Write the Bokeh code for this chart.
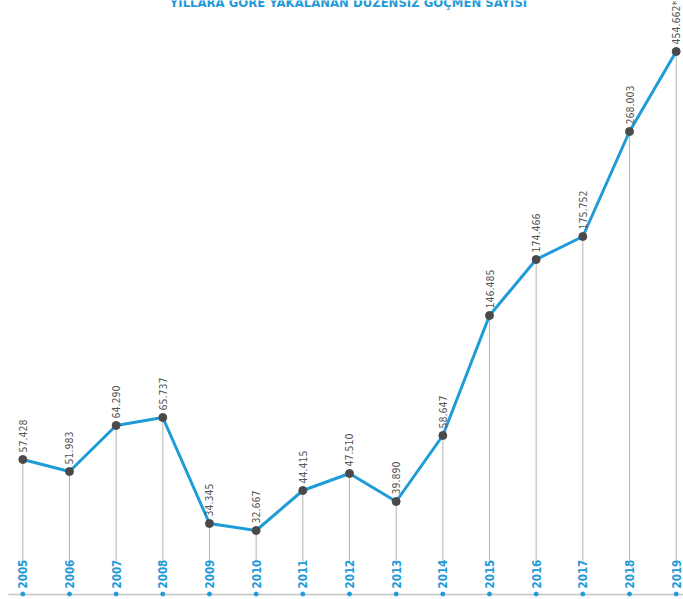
import numpy as np
from bokeh.plotting import figure
from bokeh.models import Range1d
from bokeh.core.properties import value
from bokeh.embed import file_html
from bokeh.resources import INLINE

# ---- data ----
title_text = "YILLARA GÖRE YAKALANAN DÜZENSİZ GÖÇMEN SAYISI"
years = [2005, 2006, 2007, 2008, 2009, 2010, 2011, 2012, 2013, 2014,
         2015, 2016, 2017, 2018, 2019]
year_labels = [str(y) for y in years]
migrants = [57428, 51983, 64290, 65737, 34345, 32667, 44415, 47510, 39890,
            58647, 146485, 174466, 175752, 268003, 454662]
value_labels = ["57.428", "51.983", "64.290", "65.737", "34.345", "32.667",
                "44.415", "47.510", "39.890", "58.647", "146.485", "174.466",
                "175.752", "268.003", "454.662*"]
# heights of the points as drawn in the (non-linear) infographic scale
drawn_height = [106, 94, 140, 148, 42, 35, 75, 92, 64, 130,
                250, 306, 329, 434, 514]

# ---- layout constants ----
W, H = 683, 599
first_px, step_px = 22.3, 46.67
base_px = 565
x0 = years[0] - first_px / step_px
x1 = x0 + W / step_px
y0 = -(H - base_px)
y1 = base_px

BLUE = "#1f9bd7"
GREY_TXT = "#555555"
FONT = "DejaVu Sans Condensed, Roboto"

p = figure(width=W, height=H, output_backend="svg", toolbar_location=None,
           x_range=Range1d(x0, x1), y_range=Range1d(y0, y1),
           min_border=0, min_border_left=0, min_border_right=0,
           min_border_top=0, min_border_bottom=0,
           margin=(0, 0, 0, 0))
p.axis.visible = False
p.grid.visible = False
p.outline_line_color = None
p.background_fill_color = "white"
p.border_fill_color = "white"

# baseline
p.segment(x0=[x0 + 8 / step_px], y0=[-29], x1=[x1], y1=[-29],
          line_color="#c4c4c4", line_width=1.5)
# stems
p.segment(x0=years, y0=[3] * len(years), x1=years, y1=drawn_height,
          line_color="#b5b5b5", line_width=1)
# line
p.line(years, drawn_height, line_color=BLUE, line_width=3)
# points
p.scatter(years, drawn_height, size=8, fill_color="#4a4a4a", line_color="#4a4a4a")
# value labels
p.text(years, drawn_height, text=value_labels, angle=np.pi / 2,
       text_align="left", text_baseline="middle", y_offset=-7,
       text_font=value(FONT), text_font_size="10.5px", text_color=GREY_TXT)
# year labels
p.text(years, [-23] * len(years), text=year_labels, angle=np.pi / 2,
       text_align="left", text_baseline="middle",
       text_font=value(FONT), text_font_size="11.5px", text_font_style="bold",
       text_color=BLUE)
# small dots under years
p.scatter(years, [-28.5] * len(years), size=4, fill_color=BLUE, line_color=BLUE)
# title (cut at top like the original)
p.text([x0 + 348 / step_px], [y1 - 2], text=[title_text],
       text_align="center", text_baseline="middle",
       text_font=value(FONT), text_font_size="13px", text_font_style="bold",
       text_color=BLUE)

open("out.html", "w").write(file_html(p, INLINE))
